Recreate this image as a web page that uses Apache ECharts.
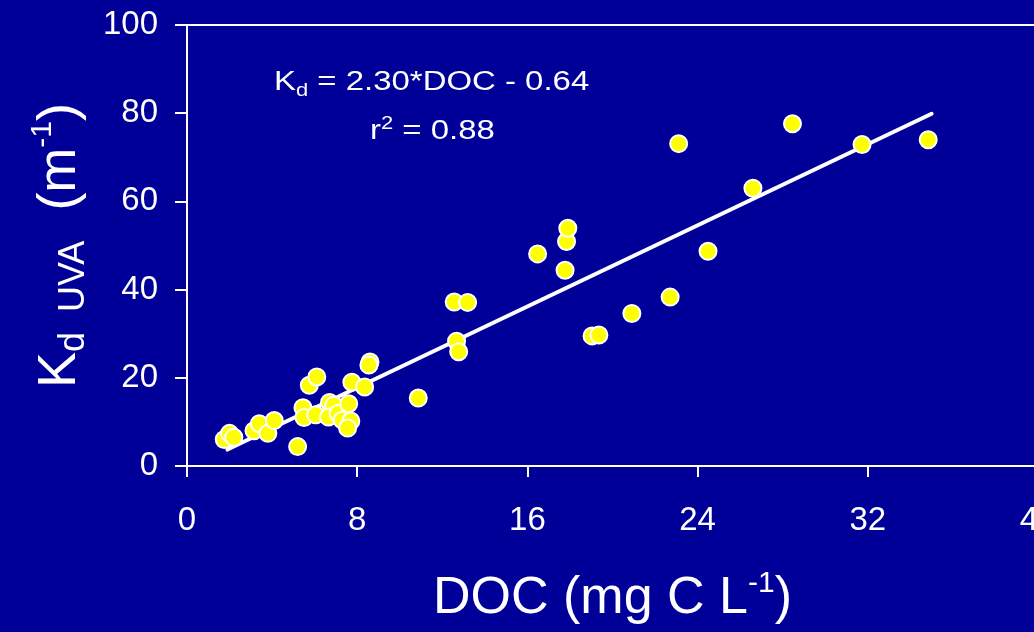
<!DOCTYPE html>
<html>
<head>
<meta charset="utf-8">
<script src="https://cdn.jsdelivr.net/npm/echarts@6/dist/echarts.min.js"></script>
<style>
html,body{margin:0;padding:0;background:#000099;}
#chart{width:1034px;height:632px;}
</style>
</head>
<body>
<div id="chart"></div>
<script>
// DOC (mg C L-1) values
const docValues = [1.75, 2.0, 2.2, 3.15, 3.4, 3.8, 4.1, 5.2, 5.45, 5.5, 5.75, 6.1, 6.05, 6.7, 6.9, 6.65, 7.1, 7.3, 7.6, 7.75, 7.7, 7.55, 8.35, 8.6, 8.55, 10.87, 12.56, 13.19, 12.67, 12.77, 16.48, 17.77, 17.84, 17.9, 19.04, 19.36, 20.91, 22.71, 23.11, 24.49, 26.6, 28.46, 31.73, 34.84];
// Kd UVA (m-1) values
const kdValues = [6.0, 7.4, 6.5, 8.0, 9.6, 7.4, 10.3, 4.4, 13.2, 11.0, 18.3, 20.2, 11.6, 14.4, 13.8, 11.1, 11.9, 10.4, 14.1, 19.0, 10.2, 8.6, 17.9, 23.6, 22.9, 15.4, 37.2, 37.1, 28.3, 25.9, 48.1, 44.4, 50.9, 53.9, 29.5, 29.7, 34.6, 38.3, 73.1, 48.7, 63.0, 77.6, 72.9, 74.0];
// Regression
const fitSlope = 2.30;
const fitIntercept = -0.64;
const fitRange = [1.9, 35.0];
const equationText = ['K', 'd', ' = 2.30*DOC - 0.64'];
const r2Text = ['r', '2', ' = 0.88'];

const FONT = '"Liberation Sans", Arial, Helvetica, sans-serif';
const scatterData = docValues.map((d, i) => [d, kdValues[i]]);
const fitData = fitRange.map(x => [x, fitSlope * x + fitIntercept]);

const chart = echarts.init(document.getElementById('chart'));
chart.setOption({
  backgroundColor: '#000099',
  animation: false,
  grid: {
    left: 187, right: -4, top: 25, bottom: 166,
    containLabel: false, outerBoundsMode: 'none',
    show: true, borderColor: '#ffffff', borderWidth: 2, backgroundColor: 'transparent'
  },
  xAxis: {
    type: 'value', min: 0, max: 40, interval: 8,
    name: '{a|DOC (mg C L}{sup|-1}{a|)}',
    nameLocation: 'middle', nameGap: 103,
    nameTextStyle: {
      color: '#fff',
      rich: {
        a: {fontSize: 52, fontFamily: FONT, color: '#fff', lineHeight: 60},
        sup: {fontSize: 30, fontFamily: FONT, color: '#fff', lineHeight: 30, verticalAlign: 'top'}
      }
    },
    axisLine: {show: true, onZero: false, lineStyle: {color: '#fff', width: 2}},
    axisTick: {show: true, inside: false, length: 11, lineStyle: {color: '#fff', width: 2}},
    axisLabel: {color: '#fff', fontSize: 33, fontFamily: FONT, margin: 38, showMaxLabel: true, showMinLabel: true},
    splitLine: {show: false}
  },
  yAxis: {
    type: 'value', min: 0, max: 100, interval: 20,
    name: '{a|K}{sub|d  UVA}{a|  (m}{sup|-1}{a|)}',
    nameLocation: 'middle', nameGap: 89, nameRotate: 90,
    nameTextStyle: {
      color: '#fff',
      rich: {
        a: {fontSize: 54, fontFamily: FONT, color: '#fff', lineHeight: 64},
        sub: {fontSize: 36, fontFamily: FONT, color: '#fff', lineHeight: 36, verticalAlign: 'bottom'},
        sup: {fontSize: 30, fontFamily: FONT, color: '#fff', lineHeight: 26, verticalAlign: 'top'}
      }
    },
    axisLine: {show: true, onZero: false, lineStyle: {color: '#fff', width: 2}},
    axisTick: {show: true, inside: false, length: 12, lineStyle: {color: '#fff', width: 2}},
    axisLabel: {color: '#fff', fontSize: 33, fontFamily: FONT, margin: 29},
    splitLine: {show: false}
  },
  series: [
    {
      type: 'line', data: fitData, showSymbol: false, symbol: 'none', z: 2,
      lineStyle: {color: '#fff', width: 4, cap: 'round'}, silent: true
    },
    {
      type: 'scatter', data: scatterData, symbol: 'circle', symbolSize: 17, z: 3,
      itemStyle: {color: '#ffff00', borderColor: '#ffffff', borderWidth: 2, opacity: 1}
    }
  ],
  graphic: [
    {
      type: 'text', x: 274, y: 66, scaleX: 1.22,
      style: {
        text: '{a|' + equationText[0] + '}{sub|' + equationText[1] + '}{a|' + equationText[2] + '}',
        fill: '#fff', verticalAlign: 'top', align: 'left',
        rich: {
          a: {fontSize: 27, fontFamily: FONT, fill: '#fff', lineHeight: 34},
          sub: {fontSize: 18, fontFamily: FONT, fill: '#fff', lineHeight: 20, verticalAlign: 'bottom'}
        }
      }
    },
    {
      type: 'text', x: 370, y: 115, scaleX: 1.22,
      style: {
        text: '{a|' + r2Text[0] + '}{sup|' + r2Text[1] + '}{a|' + r2Text[2] + '}',
        fill: '#fff', verticalAlign: 'top', align: 'left',
        rich: {
          a: {fontSize: 27, fontFamily: FONT, fill: '#fff', lineHeight: 34},
          sup: {fontSize: 18, fontFamily: FONT, fill: '#fff', lineHeight: 18, verticalAlign: 'top'}
        }
      }
    }
  ]
});
</script>
</body>
</html>
